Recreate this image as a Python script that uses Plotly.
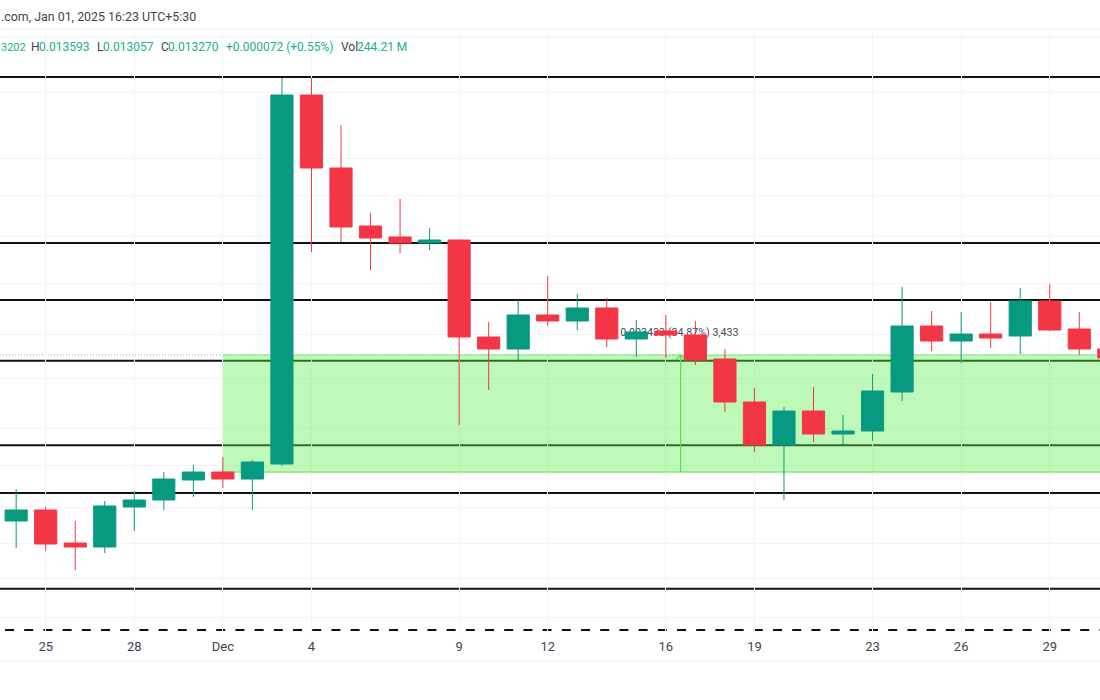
import plotly.graph_objects as go

dates = [
    "2024-11-24","2024-11-25","2024-11-26","2024-11-27","2024-11-28","2024-11-29","2024-11-30",
    "2024-12-01","2024-12-02","2024-12-03","2024-12-04","2024-12-05","2024-12-06","2024-12-07",
    "2024-12-08","2024-12-09","2024-12-10","2024-12-11","2024-12-12","2024-12-13","2024-12-14",
    "2024-12-15","2024-12-16","2024-12-17","2024-12-18","2024-12-19","2024-12-20","2024-12-21",
    "2024-12-22","2024-12-23","2024-12-24","2024-12-25","2024-12-26","2024-12-27","2024-12-28",
    "2024-12-29","2024-12-30","2024-12-31",
]
opens = [0.00837,0.00870,0.00771,0.00759,0.00879,0.00900,0.00960,0.00984,0.00963,0.01008,
         0.02115,0.01896,0.01722,0.01689,0.01671,0.01680,0.01389,0.01353,0.01455,0.01437,
         0.01476,0.01383,0.01407,0.01395,0.01323,0.01194,0.01065,0.01167,0.01098,0.01107,
         0.01224,0.01422,0.01377,0.01398,0.01392,0.01497,0.01413,0.01353]
highs = [0.00933,0.00879,0.00837,0.00897,0.00927,0.00984,0.01005,0.01029,0.01020,0.02166,
         0.02166,0.02025,0.01761,0.01803,0.01716,0.01680,0.01434,0.01500,0.01572,0.01518,
         0.01506,0.01440,0.01455,0.01437,0.01353,0.01236,0.01179,0.01239,0.01155,0.01278,
         0.01539,0.01467,0.01464,0.01494,0.01536,0.01548,0.01464,0.01395]
lows = [0.00756,0.00747,0.00690,0.00741,0.00807,0.00870,0.00909,0.00936,0.00870,0.01002,
        0.01644,0.01674,0.01590,0.01641,0.01650,0.01125,0.01230,0.01317,0.01422,0.01410,
        0.01359,0.01329,0.01326,0.01305,0.01164,0.01044,0.00900,0.01074,0.01065,0.01077,
        0.01197,0.01347,0.01311,0.01356,0.01338,0.01407,0.01335,0.01305]
closes = [0.00870,0.00768,0.00759,0.00882,0.00900,0.00963,0.00984,0.00963,0.01014,0.02115,
          0.01896,0.01719,0.01686,0.01671,0.01680,0.01389,0.01353,0.01455,0.01437,0.01476,
          0.01383,0.01404,0.01395,0.01320,0.01194,0.01065,0.01167,0.01098,0.01107,0.01227,
          0.01422,0.01377,0.01398,0.01386,0.01497,0.01410,0.01353,0.01326]

level_lines = [0.02169,0.01671,0.01500,0.01318,0.01064,0.00921,0.00634]
dashed_level = 0.00510
last_price = 0.01335
range_top = 0.01335
range_bottom = 0.00984
range_start = "2024-12-01"
range_marker = "2024-12-16 12:00"
range_label = "0.003433 (34.87%) 3,433"

tick_dates = ["2024-11-25","2024-11-28","2024-12-01","2024-12-04","2024-12-09","2024-12-12",
              "2024-12-16","2024-12-19","2024-12-23","2024-12-26","2024-12-29"]
tick_text = ["25","28","Dec","4","9","12","16","19","23","26","29"]
price_grid = [0.02289,0.02124,0.01926,0.01815,0.01692,0.01551,0.01398,0.01266,0.01116,
              0.01005,0.00879,0.00771,0.00666,0.00549]

UP = "#089981"
DOWN = "#F23645"
TEAL_TEXT = "#22AB94"
GREY_TEXT = "#42444C"
X_RANGE = ["2024-11-23 10:52", "2024-12-30 16:50"]
Y_RANGE = [0.00501, 0.02313]
TOP_PX, BOTTOM_PX = 29, 633
W, H = 1100, 700

def xp(px):
    return px / W

def yp(py):
    return (BOTTOM_PX - py) / (BOTTOM_PX - TOP_PX)

fig = go.Figure(go.Candlestick(
    x=dates, open=opens, high=highs, low=lows, close=closes,
    increasing=dict(line=dict(color=UP, width=1), fillcolor=UP),
    decreasing=dict(line=dict(color=DOWN, width=1), fillcolor=DOWN),
    whiskerwidth=0, showlegend=False,
))

shapes = []
shapes.append(dict(type="rect", xref="x", yref="y", x0=range_start, x1=X_RANGE[1],
                   y0=range_bottom, y1=range_top, fillcolor="rgba(92,240,80,0.40)",
                   line=dict(width=0), layer="between"))
for lv in level_lines:
    shapes.append(dict(type="line", xref="paper", yref="y", x0=0, x1=1, y0=lv, y1=lv,
                       line=dict(color="#111111", width=2), layer="between"))
shapes.append(dict(type="line", xref="paper", yref="y", x0=xp(5), x1=1, y0=dashed_level, y1=dashed_level,
                   line=dict(color="#111111", width=2, dash="9px,10.2px"), layer="between"))
shapes.append(dict(type="line", xref="x", yref="y", x0=range_start, x1=X_RANGE[1],
                   y0=range_bottom, y1=range_bottom, line=dict(color="#80EA76", width=1.5), layer="between"))
shapes.append(dict(type="line", xref="x", yref="y", x0=range_start, x1=X_RANGE[1],
                   y0=range_top, y1=range_top, line=dict(color="#8CEC80", width=1), layer="between"))
shapes.append(dict(type="line", xref="paper", yref="y", x0=0, x1=1, y0=last_price, y1=last_price,
                   line=dict(color="rgba(8,153,129,0.6)", width=1, dash="1px,2px"), layer="between"))
shapes.append(dict(type="line", xref="x", yref="y", x0=range_marker, x1=range_marker,
                   y0=range_bottom, y1=range_top, line=dict(color="#55E050", width=1.2), layer="between"))
for tip in ("2024-12-16 08:00", "2024-12-16 16:00"):
    shapes.append(dict(type="line", xref="x", yref="y", x0=range_marker, x1=tip,
                       y0=range_top, y1=range_top - 0.00015,
                       line=dict(color="#55E050", width=1.2), layer="between"))
shapes.append(dict(type="rect", xref="x", yref="y", x0="2024-12-14", x1="2024-12-18 22:00",
                   y0=0.01374, y1=0.01434, line=dict(width=0), fillcolor="rgba(0,0,0,0)",
                   layer="between",
                   label=dict(text=range_label, textposition="middle center",
                              font=dict(family="Roboto", size=10.7, color="#4A4C54"))))
shapes.append(dict(type="line", xref="paper", yref="paper", x0=0, x1=1, y0=yp(29), y1=yp(29),
                   line=dict(color="#EFF1F5", width=1), layer="below"))
shapes.append(dict(type="line", xref="paper", yref="paper", x0=0, x1=1, y0=yp(37), y1=yp(37),
                   line=dict(color="#F3F4F7", width=1), layer="below"))
shapes.append(dict(type="line", xref="paper", yref="paper", x0=0, x1=1, y0=yp(661), y1=yp(661),
                   line=dict(color="#EFF1F5", width=1), layer="below"))

header = [
    (".com, Jan 01, 2025 16:23 UTC+5:30", 0, 17, GREY_TEXT, 12.4),
    ("3202", 0, 47, TEAL_TEXT, 11),
    ("H", 30, 47, GREY_TEXT, 12),
    ("0.013593", 38, 47, TEAL_TEXT, 12),
    ("L", 96, 47, GREY_TEXT, 12),
    ("0.013057", 102, 47, TEAL_TEXT, 12),
    ("C", 160, 47, GREY_TEXT, 12),
    ("0.013270", 167, 47, TEAL_TEXT, 12),
    ("+0.000072 (+0.55%)", 225, 47, TEAL_TEXT, 12),
    ("Vol", 340, 47, GREY_TEXT, 12),
    ("244.21 M", 356, 47, TEAL_TEXT, 12),
]
annotations = [
    dict(text=t, x=xp(px), y=yp(py), xref="paper", yref="paper", xanchor="left", yanchor="middle",
         showarrow=False, borderpad=0, font=dict(family="Roboto", size=s, color=c))
    for t, px, py, c, s in header
]

fig.update_layout(
    width=W, height=H, autosize=False,
    margin=dict(l=0, r=0, t=TOP_PX, b=H - BOTTOM_PX, pad=0),
    paper_bgcolor="white", plot_bgcolor="white",
    boxgap=0.25, boxgroupgap=0,
    font=dict(family="Roboto", color=GREY_TEXT),
    xaxis=dict(type="date", range=X_RANGE, rangeslider=dict(visible=False),
               tickmode="array", tickvals=tick_dates, ticktext=tick_text,
               tickfont=dict(family="Roboto", size=13, color=GREY_TEXT),
               showgrid=True, gridcolor="#F3F4F7", gridwidth=1, zeroline=False, showline=False,
               ticks="outside", ticklen=1, tickcolor="rgba(0,0,0,0)", fixedrange=True),
    yaxis=dict(range=Y_RANGE, tickmode="array", tickvals=price_grid, showticklabels=False,
               showgrid=True, gridcolor="#F3F4F7", gridwidth=1, zeroline=False, showline=False,
               ticks="", fixedrange=True),
    shapes=shapes, annotations=annotations,
)

fig.write_html("out.html", config=dict(displayModeBar=False),
               post_script="document.body.style.margin='0';document.documentElement.style.overflow='hidden';")
